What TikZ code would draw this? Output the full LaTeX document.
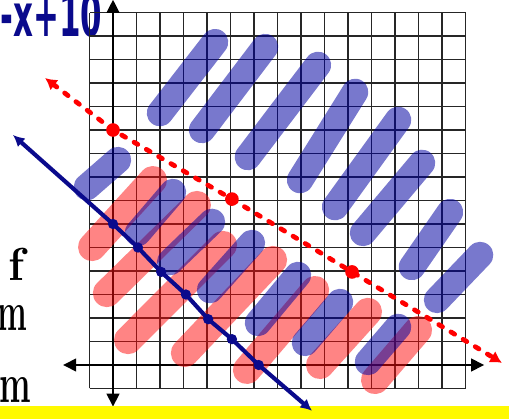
\documentclass[tikz,border=0pt]{standalone}
\usepackage{fontspec}
\usepackage{tikz}
\usetikzlibrary{arrows.meta}
\newfontfamily\handfont{DejaVu Sans}
\definecolor{inkblue}{RGB}{10,10,140}
\definecolor{hlblue}{RGB}{0,0,160}
\definecolor{hlred}{RGB}{255,10,10}
\definecolor{band}{RGB}{255,250,0}

\begin{document}
\begin{tikzpicture}[x=0.5cm, y=0.5cm, font=\scriptsize]
  \tikzset{bs/.style={line width=16pt, line cap=round, draw=hlblue, draw opacity=0.53},
    rs/.style={line width=17pt, line cap=round, draw=hlred, draw opacity=0.5},
    bdot/.style={circle, fill=inkblue, inner sep=0pt, minimum size=0.22cm},
    rdot/.style={circle, fill=red, inner sep=0pt, minimum size=0.29cm},
    ax/.style={line width=1.8pt, {Triangle[length=8pt,width=7.5pt]}-{Triangle[length=8pt,width=7.5pt]}}}
  \useasboundingbox (-4.809,-2.298) rectangle (16.851,15.532);
  \clip (-4.809,-2.298) rectangle (16.851,15.532);
  % cut-off handwriting at the left edge
  \node[anchor=base east, text=inkblue, inner sep=0pt] (eq) at (-0.45,13.96)
    {\fontsize{36}{36}\handfont\bfseries\scalebox{0.52}[1]{-x+10}};
  \node[anchor=base east, inner sep=0pt] (w1) at (-3.75,3.6) {\fontsize{28}{28}\selectfont\bfseries f};
  \node[anchor=base east, inner sep=0pt] (w2) at (-3.62,1.45) {\fontsize{24}{24}\selectfont\bfseries\scalebox{0.8}[1.4]{m}};
  \node[anchor=base east, inner sep=0pt] (w3) at (-3.45,-1.58) {\fontsize{24}{24}\selectfont\bfseries\scalebox{0.85}[1.4]{m}};
  % grid and axes
  \draw[line width=0.8pt, black!85, step=0.5cm] (-1,-1) grid (15,15);
  \draw[ax] (-2.13,0) -- (15.8,0);
  \draw[ax] (0,-1.78) -- (0,15.55);
  % red shading
  \draw[rs] (-0.89,5.02) -- (1.70,7.87); \draw[rs] (-0.26,3.06) -- (3.57,6.81);
  \draw[rs] (0.64,1.06) -- (4.68,5.11); \draw[rs] (3.06,0.51) -- (6.81,4.47);
  \draw[rs] (5.70,-0.21) -- (8.60,3.19); \draw[rs] (8.81,0) -- (10.85,2.26);
  \draw[rs] (11.15,-0.64) -- (12.98,1.49);
  % blue shading
  \draw[bs] (2.0,10.72) -- (4.34,13.74); \draw[bs] (3.79,10.0) -- (6.47,13.53);
  \draw[bs] (5.74,8.85) -- (8.72,12.77); \draw[bs] (7.96,7.87) -- (10.30,11.62);
  \draw[bs] (9.45,6.72) -- (12.13,10.43); \draw[bs] (10.64,5.62) -- (13.15,8.60);
  \draw[bs] (12.72,4.17) -- (14.34,6.51); \draw[bs] (13.79,2.77) -- (15.62,4.68);
  \draw[bs] (-1.11,7.57) -- (0.21,8.72); \draw[bs] (1.06,5.62) -- (2.55,7.36);
  \draw[bs] (2.43,4.38) -- (4.21,6.09); \draw[bs] (4.13,3.19) -- (5.91,5.19);
  \draw[bs] (6.17,1.79) -- (7.87,3.83); \draw[bs] (8.17,0.94) -- (9.66,2.68);
  \draw[bs] (10.85,0.13) -- (12.13,1.62);
  % yellow strip
  \fill[band] (-4.809,-2.298) rectangle (16.851,-1.745);
  % dashed red boundary
  \node[rdot] (r0) at (0,10) {}; \node[rdot] (r1) at (5.06,7.06) {}; \node[rdot] (r2) at (10.17,3.96) {};
  \coordinate (rL) at (-2.89,12.21); \coordinate (rR) at (16.55,0.09);
  \draw[red, line width=2.9pt, line cap=round, dash pattern=on 2.6pt off 6pt,
    {Latex[length=7pt,width=8pt]}-{Latex[length=7pt,width=8pt]}]
    (rL) -- (r0.center) -- (r1.center) -- (r2.center) -- (rR);
  % solid blue boundary
  \node[bdot] (b0) at (0,6) {}; \node[bdot] (b1) at (1.06,5.0) {}; \node[bdot] (b2) at (2.05,3.96) {};
  \node[bdot] (b3) at (3.1,3.0) {}; \node[bdot] (b4) at (4.05,1.95) {}; \node[bdot] (b5) at (5.06,1.1) {};
  \node[bdot] (b6) at (6.2,0) {};
  \coordinate (bL) at (-4.26,9.79); \coordinate (bR) at (8.47,-1.95);
  \draw[inkblue, line width=2.5pt, {Latex[length=7pt,width=7pt]}-{Latex[length=7pt,width=7pt]}]
    (bL) -- (b0.center) -- (b1.center) -- (b2.center) -- (b3.center) -- (b4.center)
    -- (b5.center) -- (b6.center) -- (bR);
\end{tikzpicture}
\end{document}
